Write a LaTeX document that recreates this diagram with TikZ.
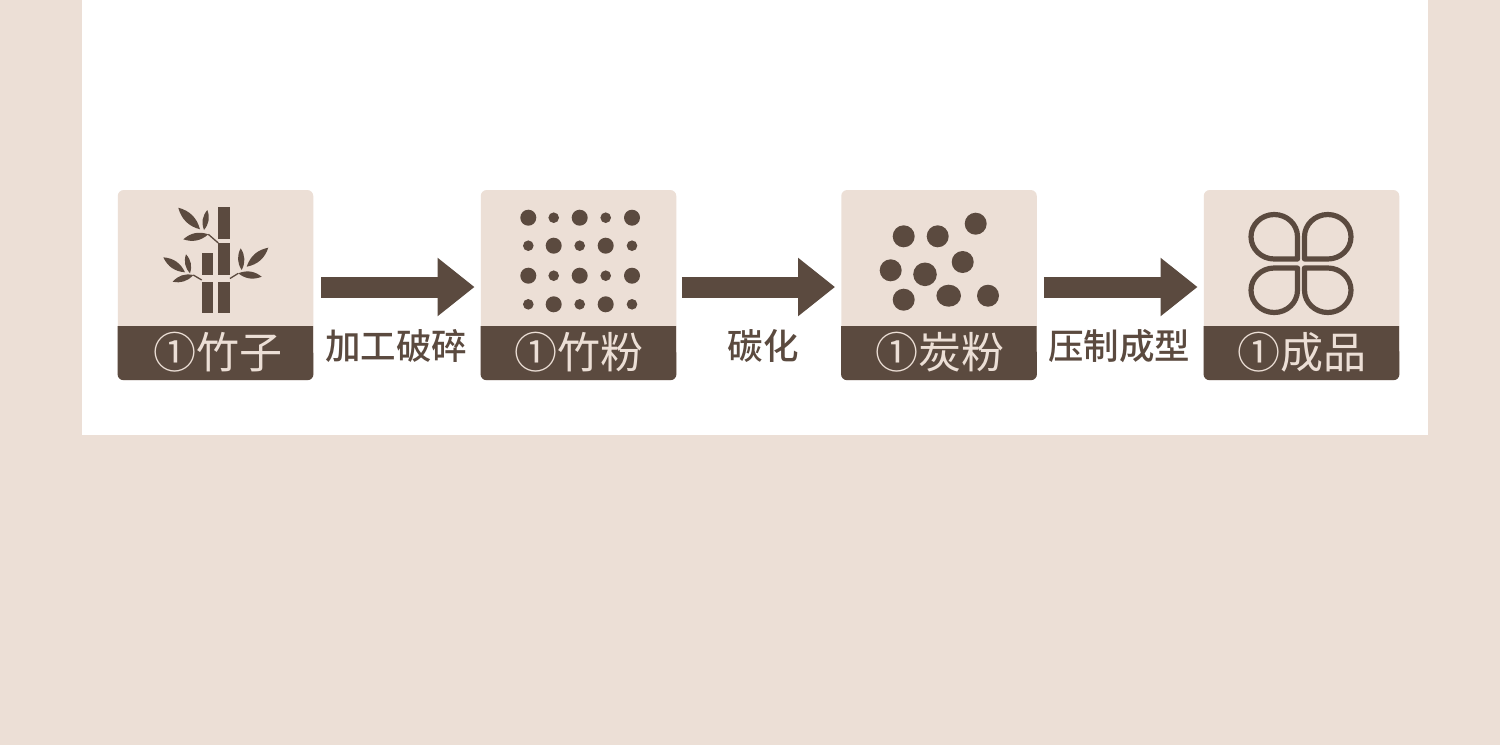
\documentclass[tikz,border=0pt]{standalone}
\usepackage{fontspec}
\usepackage{xcolor}
\usetikzlibrary{arrows.meta}
\newfontfamily\cjkmedium[UprightFont={* Medium}]{Noto Sans CJK SC}
\newfontfamily\cjkmain{Noto Sans CJK SC}
\definecolor{pagebg}{HTML}{ECDFD6}
\definecolor{barkbrown}{HTML}{5B4A3F}
\tikzset{
  stepbox/.style={fill=pagebg, rounded corners=6pt, inner sep=0pt, minimum width=195.5pt, minimum height=190pt},
  stepband/.style={fill=barkbrown},
  steplabel/.style={font=\fontsize{43}{43}\selectfont\cjkmain, text=pagebg, inner sep=0pt},
  arrowlabel/.style={font=\fontsize{35.5}{36}\selectfont\cjkmedium, text=barkbrown, inner sep=0pt},
  steparrow/.style={draw=barkbrown, line width=21pt, shorten >=6pt, shorten <=7pt, -{Triangle[length=37pt, width=56pt]}},
  stem/.style={fill=barkbrown},
  twig/.style={draw=barkbrown, line width=1.3pt},
  dot/.style={fill=barkbrown},
  petal/.style={draw=barkbrown, line width=5.2pt, line join=round},
}
\newcommand{\leaf}[2]{\fill[barkbrown] (#1) to[bend left=30] (#2) to[bend left=30] (#1) -- cycle;}
\newcommand{\labelband}[1]{\fill[stepband] (#1.south west) ++(0,-54) -- ++(195.5,0) [rounded corners=6pt] -- (#1.south east) -- (#1.south west) [sharp corners] -- cycle;}

\begin{document}
\begin{tikzpicture}[x=1pt, y=-1pt]
  \useasboundingbox (0,0) rectangle (1500,745);
  \fill[pagebg] (0,0) rectangle (1500,745);
  \fill[white] (82,0) rectangle (1428,434.5);
  % Boxes
  \node[stepbox] (bamboo) at (215.5,285) {};
  \node[stepbox] (powder) at (578.5,285) {};
  \node[stepbox] (charcoal) at (939,285) {};
  \node[stepbox] (product) at (1301.5,285) {};
  \labelband{bamboo}
  \labelband{powder}
  \labelband{charcoal}
  \labelband{product}
  \node[steplabel] (bamboolabel) at (218,352) {①竹子};
  \node[steplabel] (powderlabel) at (579,352) {①竹粉};
  \node[steplabel] (charcoallabel) at (940,352) {①炭粉};
  \node[steplabel] (productlabel) at (1302,352) {①成品};
  % Arrows and what happens along them
  \draw[steparrow, shorten <=8pt] ([yshift=-2pt]bamboo.east) -- ([yshift=-2pt]powder.west);
  \draw[steparrow, shorten <=5.5pt] ([yshift=-2pt]powder.east) -- ([yshift=-2pt]charcoal.west);
  \draw[steparrow] ([yshift=-2pt]charcoal.east) -- ([yshift=-2pt]product.west);
  \node[arrowlabel] (crushlabel) at (396,346) {加工破碎};
  \node[arrowlabel] (carbonlabel) at (763,346) {碳化};
  \node[arrowlabel] (presslabel) at (1119,346) {压制成型};
  % Bamboo stems
  \fill[stem] (218.3,207) rectangle (230,239);
  \fill[stem] (218.3,243) rectangle (230,275);
  \fill[stem] (218.3,282) rectangle (230,313);
  \fill[stem] (201.7,253) rectangle (212.7,275);
  \fill[stem] (201.7,282) rectangle (212.7,313);
  % Bamboo leaves
  \draw[twig] (208.3,234.3) -- (218.3,243);
  \draw[twig] (238.3,273.3) -- (230,278.5);
  \draw[twig] (193.3,275) -- (201.7,280);
  \leaf{178.3,207.7}{200,229.3}
  \leaf{207.3,210}{204,230}
  \leaf{183.3,239.3}{208.3,234.3}
  \leaf{268.3,247.7}{246.7,266.7}
  \leaf{240.7,248.3}{241.7,270}
  \leaf{261.7,276.7}{238.3,273.3}
  \leaf{163.3,257.3}{185,272.3}
  \leaf{186,254.3}{190,273.3}
  \leaf{172.7,281.7}{193.3,275}
  % Powder dots
  \foreach \rowy/\ra/\rb in {217.7/8/5.3, 245.7/5.3/8, 275.7/8/5.3, 304.3/5.3/8} {
    \fill[dot] (528.3,\rowy) circle (\ra);
    \fill[dot] (553.7,\rowy) circle (\rb);
    \fill[dot] (579.7,\rowy) circle (\ra);
    \fill[dot] (605.7,\rowy) circle (\rb);
    \fill[dot] (632,\rowy) circle (\ra);
  }
  % Charcoal dots
  \foreach \dotx/\doty in {903.7/236.3, 937.7/236.3, 975.7/223.7, 890.7/270.3, 962.7/262, 903.7/299.7, 988/295.7}
    \fill[dot] (\dotx,\doty) circle (11);
  \fill[dot] (925,274.3) circle (11.8);
  \fill[dot] (948.7,295.7) ellipse (12.3 and 11);
  % Clover
  \foreach \sx/\sy in {1/1, -1/1, 1/-1, -1/-1}
    \draw[petal, shift={(1301,263.5)}, xscale=\sx, yscale=\sy] (3.5,4.5) -- (3.5,26.75) arc[start angle=180, end angle=-90, x radius=23.25, y radius=22.25] -- cycle;
\end{tikzpicture}
\end{document}
